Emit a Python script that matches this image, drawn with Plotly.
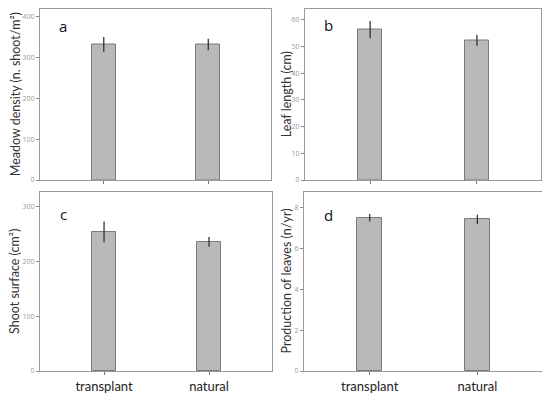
import plotly.graph_objects as go

categories = ["transplant", "natural"]
density = [332, 332]
density_err = [18, 14]
leaf_len = [56.3, 52.3]
leaf_len_err = [3.2, 2.0]
shoot_surf = [254, 236]
shoot_surf_err = [19, 9]
leaf_prod = [7.49, 7.41]
leaf_prod_err = [0.18, 0.23]

panels = [
    ("a", "Meadow density (n. shoot/m²)", density, density_err, [0, 100, 200, 300, 400], [0, 420]),
    ("b", "Leaf length (cm)", leaf_len, leaf_len_err, [0, 10, 20, 30, 40, 50, 60], [0, 64.2]),
    ("c", "Shoot surface (cm²)", shoot_surf, shoot_surf_err, [0, 100, 200, 300], [0, 327]),
    ("d", "Production of leaves (n/yr)", leaf_prod, leaf_prod_err, [0, 2, 4, 6, 8], [0, 8.75]),
]

OFF = 8  # page body margin
W, H = 550 - OFF, 393 - OFF


def fx(p):
    return min(1.0, max(0.0, (p - OFF) / W))


def fy(p):
    return min(1.0, max(0.0, 1 - (p - OFF) / H))


xdoms = [[fx(40), fx(271)], [fx(305), fx(541)], [fx(40), fx(272)], [fx(304), fx(542)]]
ydoms = [[fy(180), fy(8.5)], [fy(180), fy(8.5)], [fy(371), fy(192)], [fy(371), fy(192)]]
title_x = [15, 286, 14.5, 286]
letter_pos = [(63, 26), (328, 25), (63, 214), (328, 215)]

fig = go.Figure()
annotations = []
for i, (letter, title, vals, errs, ticks, yr) in enumerate(panels):
    n = "" if i == 0 else str(i + 1)
    fig.add_trace(go.Bar(
        x=categories, y=vals, width=0.23,
        marker=dict(color="#b9b9b9", line=dict(color="#7a7a7a", width=1)),
        error_y=dict(type="data", array=errs, visible=True, width=0,
                     color="#333333", thickness=1.3),
        xaxis="x" + n, yaxis="y" + n, showlegend=False,
    ))
    bottom = i >= 2
    fig.layout["xaxis" + n] = dict(
        domain=xdoms[i], anchor="y" + n, range=[-0.61, 1.6], automargin=False,
        showline=True, mirror=True, linecolor="#9a9a9a", linewidth=1,
        ticks="outside", ticklen=3, tickcolor="#777777",
        showticklabels=bottom, showgrid=False, zeroline=False,
        tickfont=dict(family="Lato, Open Sans", size=13, color="#222222"),
    )
    fig.layout["yaxis" + n] = dict(
        domain=ydoms[i], anchor="x" + n, range=yr, tickvals=ticks, automargin=False,
        showline=True, mirror=True, linecolor="#9a9a9a", linewidth=1,
        ticks="outside", ticklen=3, tickcolor="#888888",
        showgrid=False, zeroline=False,
        tickfont=dict(family="Open Sans", size=7, color="#999999"),
    )
    yc = (ydoms[i][0] + ydoms[i][1]) / 2
    annotations.append(dict(
        x=fx(title_x[i]), y=yc, xref="paper", yref="paper", text=title,
        textangle=-90, showarrow=False, xanchor="center", yanchor="middle",
        font=dict(family="Lato, Open Sans", size=12.5, color="#333333"),
    ))
    lx, ly = letter_pos[i]
    annotations.append(dict(
        x=fx(lx), y=fy(ly), xref="paper", yref="paper", text=letter,
        showarrow=False, xanchor="center", yanchor="middle",
        font=dict(family="Open Sans", size=15, color="#111111"),
    ))

fig.update_layout(
    width=W, height=H, margin=dict(l=0, r=0, t=0, b=0),
    paper_bgcolor="white", plot_bgcolor="white",
    annotations=annotations, bargap=0,
)
fig.write_html("out.html")
